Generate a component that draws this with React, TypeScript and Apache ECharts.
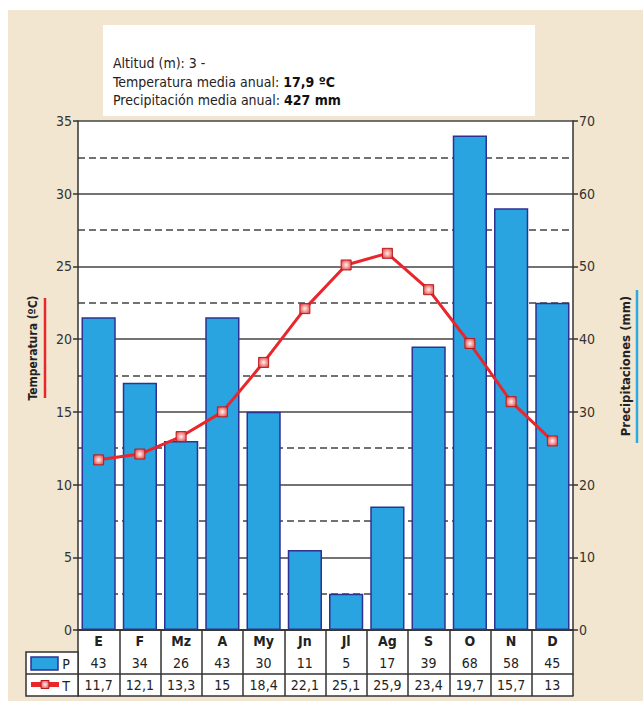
import React, { useEffect, useRef } from "react";
import * as echarts from "echarts";

const months = ["E", "F", "Mz", "A", "My", "Jn", "Jl", "Ag", "S", "O", "N", "D"];
const precipitation = [43, 34, 26, 43, 30, 11, 5, 17, 39, 68, 58, 45];
const temperature = [11.7, 12.1, 13.3, 15, 18.4, 22.1, 25.1, 25.9, 23.4, 19.7, 15.7, 13];
const headerLines = ["Altitud (m): 3 -", "Temperatura media anual: ", "Precipitación media anual: "];
const headerValues = ["", "17,9 ºC", "427 mm"];

const FONT = "'Liberation Sans Narrow','DejaVu Sans Condensed','Liberation Sans',sans-serif";
const BEIGE = "#f2e6d0";
const BLUE = "#29a4e0";
const NAVY = "#2e3192";
const RED = "#e8262c";
const DARK = "#333333";

const fmt = (v: number) => String(v).replace(".", ",");

export default function App() {
  const ref = useRef<HTMLDivElement>(null);
  useEffect(() => {
    if (!ref.current) return;
    const chart = echarts.init(ref.current, null, { renderer: "svg" });
    const markerFill = new echarts.graphic.RadialGradient(0.5, 0.5, 0.7, [
      { offset: 0, color: "#fff3ee" },
      { offset: 1, color: "#e3262b" },
    ]);
    const tableAxis = (offset: number, formatter: any, bold = false, showLabel = true) => ({
      type: "category",
      data: months,
      position: "bottom",
      offset,
      axisLine: { show: true, lineStyle: { color: DARK, width: 1.5 } },
      axisTick: { show: false },
      axisLabel: {
        show: showLabel,
        interval: 0,
        margin: 4,
        color: "#222",
        fontFamily: FONT,
        fontSize: 14,
        fontWeight: bold ? "bold" : "normal",
        formatter,
      },
      splitLine: { show: false },
    });
    chart.setOption({
      animation: false,
      backgroundColor: "#ffffff",
      grid: {
        left: 78,
        right: 70,
        top: 121,
        bottom: 71,
        show: false,
      },
      graphic: [
        {
          type: "rect",
          z: -10,
          silent: true,
          shape: { x: 8, y: 10, width: 635, height: 691 },
          style: { fill: BEIGE },
        },
        {
          type: "rect",
          z: -5,
          silent: true,
          shape: { x: 103, y: 25, width: 432, height: 91 },
          style: { fill: "#ffffff" },
        },
        {
          type: "rect",
          z: -5,
          silent: true,
          shape: { x: 78, y: 121, width: 495, height: 575 },
          style: { fill: "#ffffff" },
        },
        ...headerLines.map((t, i) => ({
          type: "text",
          x: 113,
          y: 63 + i * 18.5,
          style: {
            text: headerValues[i] ? `{n|${t}}{b|${headerValues[i]}}` : `{n|${t}}`,
            rich: {
              n: { fontFamily: FONT, fontSize: 14, fill: "#222" },
              b: { fontFamily: FONT, fontSize: 14, fontWeight: "bold", fill: "#111" },
            },
            verticalAlign: "middle",
            align: "left",
          },
        })),
        {
          type: "rect",
          z: 5,
          shape: { x: 26, y: 652, width: 52, height: 44 },
          style: { fill: "#ffffff", stroke: DARK, lineWidth: 1.5 },
        },
        {
          type: "line",
          z: 6,
          shape: { x1: 26, y1: 674, x2: 78, y2: 674 },
          style: { stroke: DARK, lineWidth: 1.5 },
        },
        {
          type: "rect",
          z: 6,
          shape: { x: 31, y: 657, width: 27, height: 13 },
          style: { fill: BLUE, stroke: NAVY, lineWidth: 1.5 },
        },
        {
          type: "text",
          z: 6,
          x: 66,
          y: 664,
          style: { text: "P", fontFamily: FONT, fontSize: 14, fill: "#222", align: "center", verticalAlign: "middle" },
        },
        {
          type: "rect",
          z: 6,
          shape: { x: 31, y: 682, width: 28, height: 5 },
          style: { fill: RED },
        },
        {
          type: "rect",
          z: 7,
          shape: { x: 41, y: 680.5, width: 8, height: 8 },
          style: { fill: markerFill, stroke: "#b71c1c", lineWidth: 1 },
        },
        {
          type: "text",
          z: 6,
          x: 66,
          y: 686,
          style: { text: "T", fontFamily: FONT, fontSize: 14, fill: "#222", align: "center", verticalAlign: "middle" },
        },
        {
          type: "text",
          x: 33,
          y: 348,
          rotation: Math.PI / 2,
          style: {
            text: "Temperatura (ºC)",
            fontFamily: FONT,
            fontSize: 12,
            fontWeight: "bold",
            fill: "#222",
            align: "center",
            verticalAlign: "middle",
          },
        },
        {
          type: "line",
          shape: { x1: 45, y1: 298, x2: 45, y2: 398 },
          style: { stroke: RED, lineWidth: 2.5 },
        },
        {
          type: "text",
          x: 625,
          y: 366,
          rotation: Math.PI / 2,
          style: {
            text: "Precipitaciones (mm)",
            fontFamily: FONT,
            fontSize: 13,
            fontWeight: "bold",
            fill: "#222",
            align: "center",
            verticalAlign: "middle",
          },
        },
        {
          type: "line",
          shape: { x1: 637, y1: 290, x2: 637, y2: 443 },
          style: { stroke: "#2aa9e3", lineWidth: 2.5 },
        },
      ],
      xAxis: [
        {
          ...tableAxis(0, (v: string) => v, true),
          axisTick: {
            show: true,
            interval: 0,
            alignWithLabel: false,
            length: 66,
            lineStyle: { color: DARK, width: 1.5 },
          },
        },
        tableAxis(22, (_v: string, i: number) => String(precipitation[i])),
        tableAxis(44, (_v: string, i: number) => fmt(temperature[i])),
        tableAxis(66, () => "", false, false),
      ],
      yAxis: [
        {
          type: "value",
          min: 0,
          max: 35,
          interval: 5,
          position: "left",
          axisLine: { show: true, lineStyle: { color: DARK, width: 1.5 } },
          axisTick: { show: true, length: 5, lineStyle: { color: DARK, width: 1.5 } },
          axisLabel: { color: "#333", fontFamily: FONT, fontSize: 14, margin: 6 },
          splitLine: { show: true, lineStyle: { color: "#444", width: 1.5 } },
          minorTick: { show: false, splitNumber: 2 },
          minorSplitLine: { show: true, lineStyle: { color: "#444", width: 1.5, type: [7, 4] } },
        },
        {
          type: "value",
          min: 0,
          max: 70,
          interval: 10,
          position: "right",
          axisLine: { show: true, lineStyle: { color: DARK, width: 1.5 } },
          axisTick: { show: true, length: 5, lineStyle: { color: DARK, width: 1.5 } },
          axisLabel: { color: "#333", fontFamily: FONT, fontSize: 14, margin: 6 },
          splitLine: { show: false },
        },
      ],
      series: [
        {
          name: "P",
          type: "bar",
          xAxisIndex: 0,
          yAxisIndex: 1,
          data: precipitation,
          barCategoryGap: "17%",
          itemStyle: { color: BLUE, borderColor: NAVY, borderWidth: 1.5 },
          z: 2,
        },
        {
          name: "T",
          type: "line",
          xAxisIndex: 0,
          yAxisIndex: 0,
          data: temperature,
          symbol: "rect",
          symbolSize: 10,
          lineStyle: { color: RED, width: 3 },
          itemStyle: { color: markerFill, borderColor: "#b71c1c", borderWidth: 1 },
          z: 3,
        },
      ],
    });
    return () => chart.dispose();
  }, []);
  return (
    <div
      ref={ref}
      style={{ position: "absolute", left: 0, top: 0, width: 643, height: 701 }}
    />
  );
}
